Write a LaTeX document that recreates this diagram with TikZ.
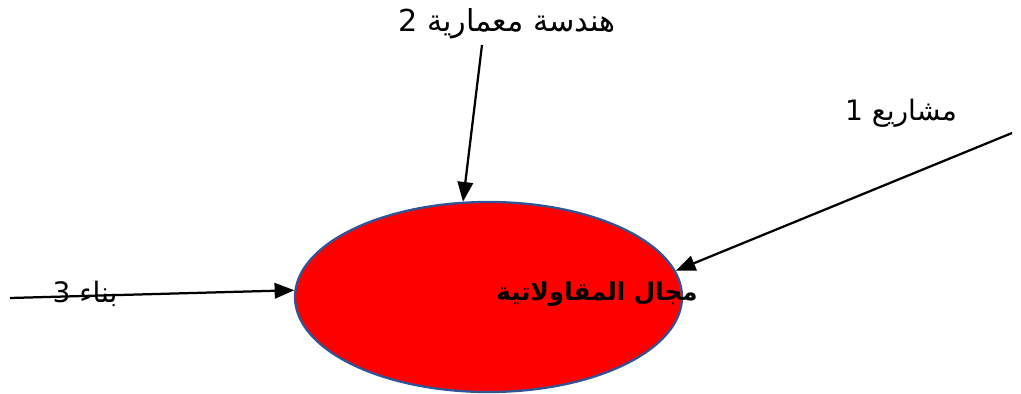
\documentclass[tikz,border=0pt]{standalone}
\usepackage{fontspec}
\usepackage{tikz}
\usetikzlibrary{shapes.geometric,arrows.meta}
\newfontfamily\arabicfont[Script=Arabic]{DejaVu Sans}
\TeXXeTstate=1

\begin{document}
\begin{tikzpicture}[x=0.025cm, y=-0.025cm,
  lbl/.style={font=\arabicfont\fontsize{20}{22}\selectfont, inner sep=0pt},
  arr/.style={black, line width=1.6pt, -{Triangle[length=14pt, width=11pt]}}]
\useasboundingbox (0, 0) rectangle (1021, 394);

\node[ellipse, fill=red, draw={rgb,255:red,47;green,85;blue,151}, line width=1.6pt,
  minimum width=9.675cm, minimum height=4.75cm, inner sep=0pt] (blob) at (488.5, 297) {};
\node[lbl, font=\arabicfont\bfseries\fontsize{17.5}{19}\selectfont] (field) at (597, 294) {\beginR مجال المقاولاتية\endR};

\node[lbl, font=\arabicfont\fontsize{21.5}{23}\selectfont] (arch) at (507, 24) {\beginR هندسة معمارية 2\endR};
\node[lbl] (proj) at (901, 113) {\beginR مشاريع 1\endR};
\node[lbl] (build) at (85, 294) {\beginR بناء 3\endR};

\coordinate (archend) at (482, 45);
\coordinate (projend) at (1012, 133);
\coordinate (buildend) at (10, 298);

\draw[arr] (archend) -- (blob.105);
\draw[arr] (projend) -- (blob.8);
\draw[arr] (buildend) -- (blob.178);
\end{tikzpicture}
\end{document}
